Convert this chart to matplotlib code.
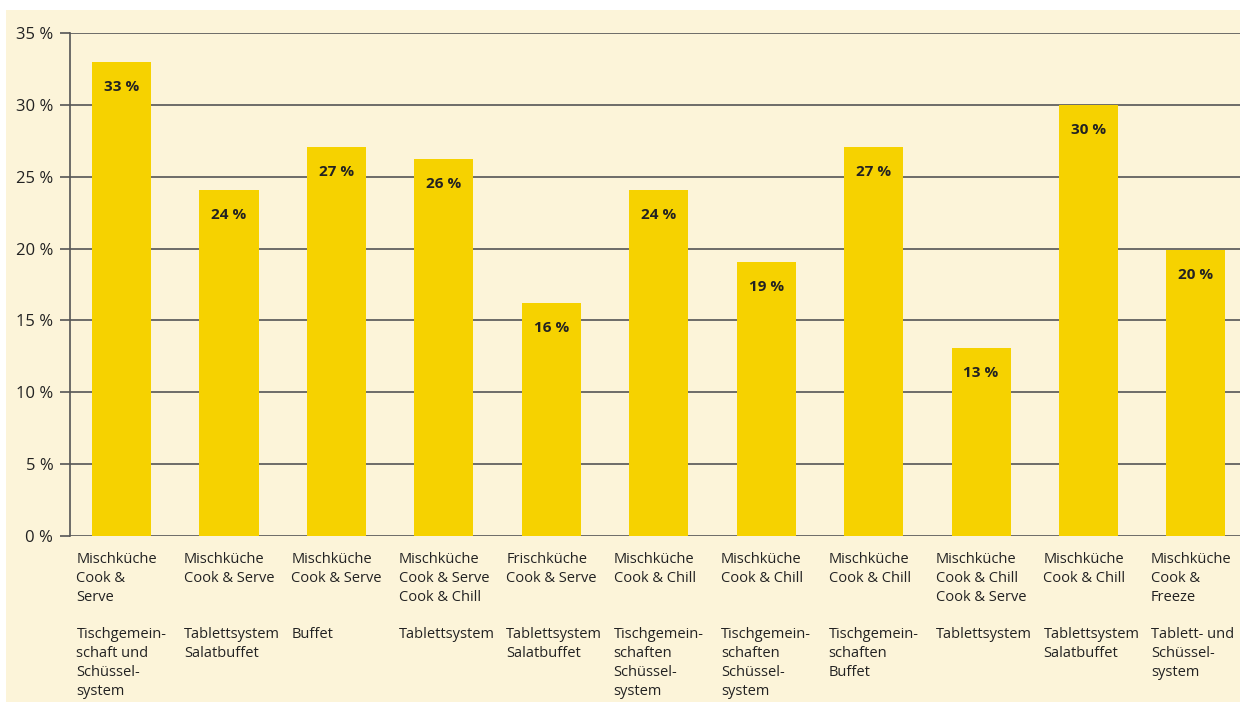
import matplotlib.pyplot as plt
from matplotlib.patches import Rectangle
from matplotlib.transforms import blended_transform_factory
import numpy as np

# Werte (Anteil in %)
werte = [33.0, 24.1, 27.1, 26.2, 16.2, 24.1, 19.1, 27.1, 13.1, 30.0, 19.9]
beschriftung = ['33 %', '24 %', '27 %', '26 %', '16 %', '24 %', '19 %', '27 %', '13 %', '30 %', '20 %']

# Kategorien: Küchensystem / Ausgabesystem
kueche = [
    'Mischküche\nCook &\nServe',
    'Mischküche\nCook & Serve',
    'Mischküche\nCook & Serve',
    'Mischküche\nCook & Serve\nCook & Chill',
    'Frischküche\nCook & Serve',
    'Mischküche\nCook & Chill',
    'Mischküche\nCook & Chill',
    'Mischküche\nCook & Chill',
    'Mischküche\nCook & Chill\nCook & Serve',
    'Mischküche\nCook & Chill',
    'Mischküche\nCook &\nFreeze',
]
ausgabe = [
    'Tischgemein-\nschaft und\nSchüssel-\nsystem',
    'Tablettsystem\nSalatbuffet',
    'Buffet',
    'Tablettsystem',
    'Tablettsystem\nSalatbuffet',
    'Tischgemein-\nschaften\nSchüssel-\nsystem',
    'Tischgemein-\nschaften\nSchüssel-\nsystem',
    'Tischgemein-\nschaften\nBuffet',
    'Tablettsystem',
    'Tablettsystem\nSalatbuffet',
    'Tablett- und\nSchüssel-\nsystem',
]
y_ticks = [0, 5, 10, 15, 20, 25, 30, 35]

plt.rcParams['font.family'] = ['Open Sans', 'DejaVu Sans']

W, H = 1248, 704
fig = plt.figure(figsize=(W / 100, H / 100), dpi=100, facecolor='white')
# cremefarbener Hintergrund
fig.patches.append(Rectangle((6 / W, 1 - 702 / H), 1234 / W, 692 / H,
                             transform=fig.transFigure, facecolor='#fcf4d9',
                             edgecolor='none', zorder=-5))

ax = fig.add_axes([70 / W, 1 - 536 / H, 1170 / W, 503 / H])
ax.set_facecolor('none')

x = np.arange(len(werte))
ax.bar(x, werte, width=0.55, color='#f6d200', zorder=3)

for xi, v, lab in zip(x, werte, beschriftung):
    ax.annotate(lab, (xi, v), xytext=(0, -18), textcoords='offset points',
                ha='center', va='center', fontsize=11, fontweight='bold',
                color='#222222', zorder=4)

ax.set_ylim(0, 35)
ax.set_xlim(-0.48, 10.41)
ax.set_yticks(y_ticks)
ax.set_yticklabels([f'{t} %' for t in y_ticks], fontsize=12, color='#222222')
ax.set_xticks([])
ax.tick_params(axis='y', length=7, width=1.2, color='#555555', pad=5)
ax.grid(axis='y', color='#555555', linewidth=1.2, zorder=1)
ax.set_axisbelow(True)
for s in ['top', 'right', 'bottom']:
    ax.spines[s].set_visible(False)
ax.spines['left'].set_color('#555555')
ax.spines['left'].set_linewidth(1.2)

trans = blended_transform_factory(ax.transData, ax.transAxes)
for xi, k, a in zip(x, kueche, ausgabe):
    ax.text(xi - 0.42, -0.031, k, transform=trans, ha='left', va='top',
            fontsize=10.5, color='#222222', linespacing=1.38)
    ax.text(xi - 0.42, -0.180, a, transform=trans, ha='left', va='top',
            fontsize=10.5, color='#222222', linespacing=1.38)

fig.savefig('out.png', dpi=100, facecolor='white')
